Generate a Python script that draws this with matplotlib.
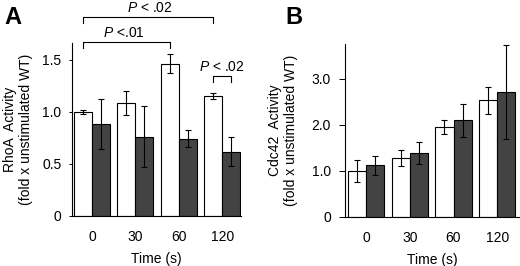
import matplotlib
matplotlib.use("Agg")
import matplotlib.pyplot as plt
import numpy as np

plt.rcParams['font.family'] = ['Liberation Sans', 'DejaVu Sans']
plt.rcParams['mathtext.fontset'] = 'custom'
plt.rcParams['mathtext.it'] = 'Liberation Sans:italic'
plt.rcParams['mathtext.rm'] = 'Liberation Sans'

times = ["0", "30", "60", "120"]

rhoa_wt = [1.00, 1.08, 1.46, 1.15]
rhoa_wt_err = [0.02, 0.115, 0.09, 0.03]
rhoa_ko = [0.88, 0.76, 0.74, 0.615]
rhoa_ko_err = [0.24, 0.29, 0.08, 0.14]

cdc42_wt = [1.00, 1.28, 1.96, 2.53]
cdc42_wt_err = [0.23, 0.17, 0.15, 0.29]
cdc42_ko = [1.12, 1.39, 2.10, 2.71]
cdc42_ko_err = [0.21, 0.235, 0.36, 1.02]

W, H = 520, 266
fig = plt.figure(figsize=(W / 100, H / 100), dpi=100)

dark = '#434343'
bw = 0.415
lw = 0.8

def draw(ax, wt, wte, ko, koe, xlim, ylim, yticks, ylabels, ylab, labx, ypad, tlen):
    x = np.arange(len(times))
    ax.bar(x - bw / 2, wt, bw, color='white', edgecolor='black', linewidth=lw, zorder=2)
    ax.bar(x + bw / 2, ko, bw, color=dark, edgecolor='black', linewidth=lw, zorder=2)
    ax.errorbar(x - bw / 2, wt, yerr=wte, fmt='none', ecolor='black', elinewidth=0.8,
                capsize=2.2, capthick=0.8, zorder=3, clip_on=False)
    ax.errorbar(x + bw / 2, ko, yerr=koe, fmt='none', ecolor='black', elinewidth=0.8,
                capsize=2.2, capthick=0.8, zorder=3, clip_on=False)
    ax.set_xlim(*xlim)
    ax.set_ylim(*ylim)
    ax.set_xticks(x)
    ax.set_xticklabels(times, fontsize=10)
    ax.set_yticks(yticks)
    ax.set_yticklabels(ylabels, fontsize=10)
    ax.tick_params(axis='x', length=0, pad=10)
    ax.tick_params(axis='y', length=tlen, width=0.7, pad=ypad, direction='out')
    for s in ['top', 'right']:
        ax.spines[s].set_visible(False)
    for s in ['left', 'bottom']:
        ax.spines[s].set_linewidth(0.8)
    ax.set_xlabel('Time (s)', fontsize=10, labelpad=6)
    ax.set_ylabel(ylab, fontsize=10, linespacing=1.15)
    ax.yaxis.set_label_coords(labx, 0.5)

axA = fig.add_axes([72 / W, 1 - 215.7 / H, 169 / W, 172.7 / H])
draw(axA, rhoa_wt, rhoa_wt_err, rhoa_ko, rhoa_ko_err, (-0.46, 3.43), (0, 1.66),
     [0, 0.5, 1.0, 1.5], ["0", "0.5", "1.0", "1.5"],
     "RhoA  Activity\n(fold x unstimulated WT)", -0.23, 5, 2.5)

axB = fig.add_axes([345 / W, 1 - 217 / H, 175 / W, 172.7 / H])
draw(axB, cdc42_wt, cdc42_wt_err, cdc42_ko, cdc42_ko_err, (-0.48, 3.52), (0, 3.75),
     [0, 1.0, 2.0, 3.0], ["0", "1.0", "2.0", "3.0"],
     "Cdc42  Activity\n(fold x unstimulated WT)", -0.27, 6, 4)

# significance brackets on panel A
xw = np.arange(len(times)) - bw / 2
xk = np.arange(len(times)) + bw / 2
def bracket(ax, x1, x2, y, txt, tx):
    ax.plot([x1, x1, x2, x2], [y - 0.055, y, y, y - 0.055], color='black', lw=0.8,
            clip_on=False, zorder=4)
    ax.text(tx, y + 0.05, txt, ha='center', va='baseline', fontsize=10, clip_on=False)

bracket(axA, xw[0], xw[3], 1.91, r"$P$ < .02", (xw[0] + xw[3]) / 2 + 0.03)
bracket(axA, xw[0], xw[2], 1.67, r"$P$ <.01", (xw[0] + xw[2]) / 2 - 0.05)
bracket(axA, xw[3], xk[3], 1.34, r"$P$ < .02", (xw[3] + xk[3]) / 2)

fig.text(4 / W, 1 - 24 / H, 'A', fontsize=17, fontweight='bold', ha='left', va='baseline')
fig.text(285 / W, 1 - 24 / H, 'B', fontsize=17, fontweight='bold', ha='left', va='baseline')

fig.savefig('out.png', dpi=100)
